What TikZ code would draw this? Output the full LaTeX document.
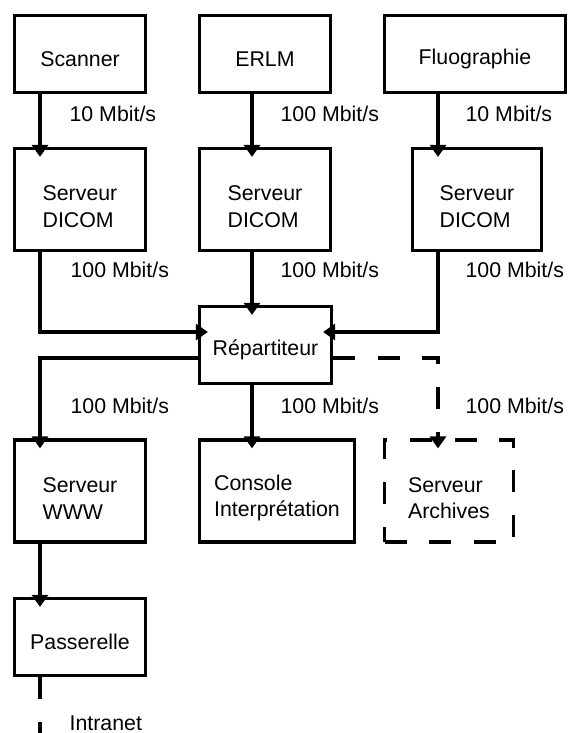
\documentclass[tikz,border=0pt]{standalone}
\usepackage{fontspec}
\setmainfont{Liberation Sans}
\usetikzlibrary{arrows.meta}

\tikzset{every picture/.style={line width=2.4pt}}
\tikzset{
  box/.style={draw, align=left, inner sep=0pt, font=\fontsize{16}{20}\selectfont},
  oneline/.style={box, text height=19pt, minimum height=57.75pt},
  twoline/.style={box, text height=42pt, minimum height=76.5pt},
  rate/.style={anchor=west, inner sep=0pt, font=\fontsize{16}{20}\selectfont},
  link/.style={-{Triangle[width=12pt,length=9pt]}, shorten >=-7.5pt},
  dashline/.style={dash pattern=on 16.5pt off 17pt}
}

\begin{document}
\begin{tikzpicture}[x=0.75pt,y=0.75pt,yscale=-1,xscale=1]
\useasboundingbox (0,0) rectangle (569,733);
% columns and rows of the connectors
\coordinate (colA) at (40,0);
\coordinate (colB) at (252,0);
\coordinate (colC) at (438,0);
\coordinate (rowIn) at (0,332);
\coordinate (rowOut) at (0,358);
\coordinate (netEnd) at (40,740);
%Shape: Rectangle
\node[oneline, minimum width=98.25pt] (scan) at (80,54) {Scanner};
\node[oneline, minimum width=98.25pt] (erlm) at (265,54) {ERLM};
\node[oneline, minimum width=135.75pt] (fluo) at (475,54) {Fluographie};
%Shape: Rectangle
\node[twoline, minimum width=98.25pt] (dicomA) at (80,199.5) {Serveur\\DICOM};
\node[twoline, minimum width=98.25pt] (dicomB) at (265,199.5) {Serveur\\DICOM};
\node[twoline, minimum width=96.75pt] (dicomC) at (477,199.5) {Serveur\\DICOM};
%Shape: Rectangle
\node[oneline, minimum width=99pt] (rep) at (265.5,345) {Répartiteur};
%Shape: Rectangle
\node[twoline, minimum width=98.25pt] (www) at (80,491) {Serveur\\WWW};
\node[twoline, minimum width=116.25pt] (cons) at (277,491) {Console\\Interprétation};
\node[twoline, dashline, minimum width=96.75pt] (arch) at (449,491) {Serveur\\Archives};
%Shape: Rectangle
\node[oneline, minimum width=98.25pt] (pass) at (80,637) {Passerelle};
%Straight Lines
\draw[link] (scan.south -| colA) -- (dicomA.north -| colA);
\draw[link] (erlm.south -| colB) -- (dicomB.north -| colB);
\draw[link] (fluo.south -| colC) -- (dicomC.north -| colC);
%Straight Lines
\draw[link] (dicomA.south -| colA) |- (rep.west |- rowIn);
\draw[link] (dicomB.south -| colB) -- (rep.north -| colB);
\draw[link] (dicomC.south -| colC) |- (rep.east |- rowIn);
%Straight Lines
\draw[link] (rep.west |- rowOut) -| (www.north -| colA);
\draw[link] (rep.south -| colB) -- (cons.north -| colB);
\draw[link, dashline] (rep.east |- rowOut) -| (arch.north -| colC);
%Straight Lines
\draw[link] (www.south -| colA) -- (pass.north -| colA);
\draw[dashline] (pass.south -| colA) -- (netEnd);
% Text Node
\node[rate] (rateScan) at (68,114) {10 Mbit/s};
\node[rate] (rateErlm) at (279,114) {100 Mbit/s};
\node[rate] (rateFluo) at (464,114) {10 Mbit/s};
% Text Node
\node[rate] (rateDicomA) at (69,270) {100 Mbit/s};
\node[rate] (rateDicomB) at (279,270) {100 Mbit/s};
\node[rate] (rateDicomC) at (464,270) {100 Mbit/s};
% Text Node
\node[rate] (rateWww) at (69,406) {100 Mbit/s};
\node[rate] (rateCons) at (279,406) {100 Mbit/s};
\node[rate] (rateArch) at (464,406) {100 Mbit/s};
% Text Node
\node[rate] (intranet) at (68,723) {Intranet};
\end{tikzpicture}
\end{document}
